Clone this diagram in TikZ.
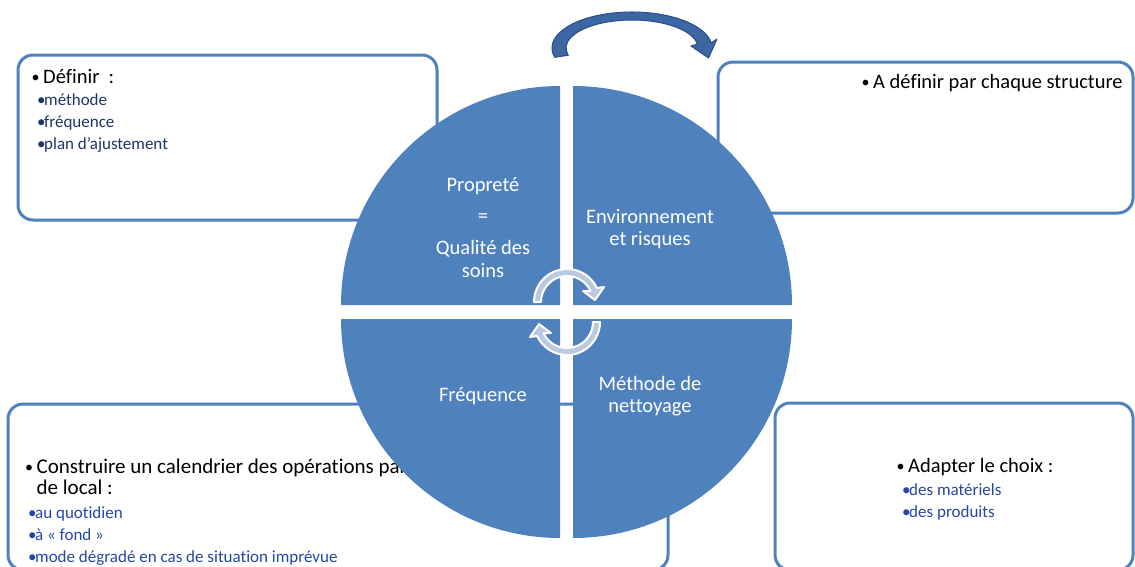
\documentclass[tikz,border=0pt]{standalone}
\usepackage{fontspec}
\setmainfont{Carlito}[Ligatures=NoCommon]

\definecolor{accent}{RGB}{79,129,189}
\definecolor{navytext}{RGB}{31,52,105}
\definecolor{bluetext}{RGB}{38,70,165}
\definecolor{cyclefill}{RGB}{186,200,226}
\definecolor{bigarrowfill}{RGB}{60,102,164}
\definecolor{bigarrowline}{RGB}{42,76,135}

\newcommand{\mainbul}{\makebox[13pt][l]{\hspace{1.5pt}\raisebox{1pt}{\fontsize{16}{16}\selectfont •}}}
\newcommand{\subbul}{\makebox[7pt][l]{•}}

\tikzset{
  panel/.style={draw=accent, line width=3pt, rounded corners=15pt},
  quad/.style={fill=accent},
  quadtext/.style={text=white, font=\fontsize{20.5}{24}\selectfont, anchor=base, inner sep=0pt},
  mainitem/.style={font=\fontsize{20.5}{24}\selectfont, anchor=base west, inner sep=0pt},
  subitem/.style={font=\fontsize{17}{20}\selectfont, anchor=base west, inner sep=0pt},
  cyclearrow/.style={fill=cyclefill, draw=white, line width=2pt, line join=round},
  bigarrow/.style={fill=bigarrowfill, draw=bigarrowline, line width=1pt, line join=round},
}

\begin{document}
\begin{tikzpicture}[x=1pt,y=-1pt]
\useasboundingbox (0,0) rectangle (1135,566);
\clip (0,0) rectangle (1135,566);

% panels behind the wheel
\draw[panel] (18,55) rectangle (437,220);
\draw[panel] (718,62) rectangle (1133,213);
\draw[panel] (8,404) rectangle (668,570);
\draw[panel] (775,403) rectangle (1133,570);

% panel texts
\node[mainitem] (defA) at (30,83.3) {\mainbul Définir\ \ :};
\node[subitem, text=navytext] (defB) at (37,105.7) {\subbul méthode};
\node[subitem, text=navytext] (defC) at (37,127) {\subbul fréquence};
\node[subitem, text=navytext] (defD) at (37,149) {\subbul plan d’ajustement};

\node[mainitem] (struct) at (860,88) {\mainbul A définir par chaque structure};

\node[mainitem, font=\fontsize{21}{24}\selectfont] (calA) at (23.5,473) {\mainbul Construire un calendrier des opérations par};
\node[mainitem, font=\fontsize{21}{24}\selectfont] (calB) at (36.5,494) {de local :};
\node[subitem, text=bluetext] (calC) at (28,518) {\subbul au quotidien};
\node[subitem, text=bluetext] (calD) at (28,540) {\subbul à «~fond~»};
\node[subitem, text=bluetext] (calE) at (28,562) {\subbul mode dégradé en cas de situation imprévue};

\node[mainitem] (adaptA) at (895,472) {\mainbul Adapter le choix :};
\node[subitem, text=bluetext] (adaptB) at (902,495) {\subbul des matériels};
\node[subitem, text=bluetext] (adaptC) at (902,517) {\subbul des produits};

% the four quarters
\fill[quad] (560,305) -- (341,305) arc[start angle=180, end angle=270, radius=219] -- cycle;
\fill[quad] (573,305) -- (573,86) arc[start angle=270, end angle=360, radius=219] -- cycle;
\fill[quad] (573,319) -- (792,319) arc[start angle=0, end angle=90, radius=219] -- cycle;
\fill[quad] (560,319) -- (560,538) arc[start angle=90, end angle=180, radius=219] -- cycle;

% quarter labels
\node[quadtext] (clean) at (483,191.5) {Propreté};
\node[quadtext] (equal) at (483,222.5) {=};
\node[quadtext] (quality) at (483,254) {Qualité des};
\node[quadtext] (care) at (483,277) {soins};
\node[quadtext] (envA) at (650,223) {Environnement};
\node[quadtext] (envB) at (650,245) {et risques};
\node[quadtext] (freq) at (483,401.5) {Fréquence};
\node[quadtext] (methA) at (650,390) {Méthode de};
\node[quadtext] (methB) at (650,412) {nettoyage};

% small cycle arrows in the middle
\draw[cyclearrow] (534,302) arc[start angle=180, end angle=335, radius=33]
  -- (604,287) -- (595,300) -- (583,291) -- (590.6,291)
  arc[start angle=335, end angle=180, radius=26] -- cycle;
\draw[cyclearrow] (600,322) arc[start angle=0, end angle=155, radius=33]
  -- (530,337) -- (539,324) -- (551,333) -- (543.4,333)
  arc[start angle=155, end angle=0, radius=26] -- cycle;

% big arrow on top
\draw[bigarrow] (554.7,57.3) arc[start angle=165, end angle=352, x radius=80, y radius=36]
  -- (717,39) -- (708.5,58) -- (691,46) -- (697.4,44.1)
  arc[start angle=352, end angle=165, x radius=66, y radius=28] -- cycle;

\end{tikzpicture}
\end{document}
